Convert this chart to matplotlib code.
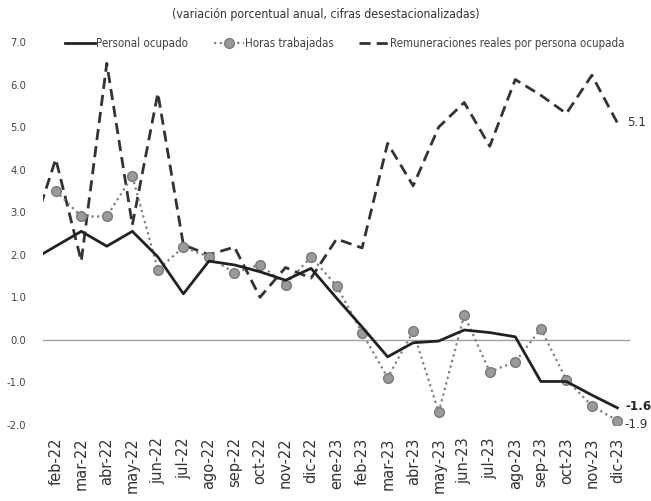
import matplotlib
matplotlib.use("Agg")
import matplotlib.pyplot as plt

# months shown on the axis (ene-22 is only drawn as the line entry, clipped at the edge)
meses = ["feb-22", "mar-22", "abr-22", "may-22", "jun-22", "jul-22", "ago-22",
         "sep-22", "oct-22", "nov-22", "dic-22", "ene-23", "feb-23", "mar-23",
         "abr-23", "may-23", "jun-23", "jul-23", "ago-23", "sep-23", "oct-23",
         "nov-23", "dic-23"]

# values for ene-22 (just left of the plot area)
personal_ene22 = 1.85
remun_ene22 = 2.4

personal = [2.2, 2.55, 2.2, 2.55, 1.95, 1.08, 1.85, 1.76, 1.6, 1.4, 1.68,
            0.98, 0.3, -0.4, -0.07, -0.03, 0.23, 0.17, 0.07, -0.98, -0.98,
            -1.3, -1.6]
horas = [3.5, 2.9, 2.9, 3.85, 1.65, 2.18, 1.95, 1.57, 1.77, 1.3, 1.95,
         1.27, 0.16, -0.89, 0.2, -1.7, 0.58, -0.75, -0.52, 0.26, -0.94,
         -1.55, -1.9]
remun = [4.25, 1.85, 6.5, 2.7, 5.8, 2.23, 2.0, 2.18, 1.0, 1.7, 1.45,
         2.37, 2.16, 4.62, 3.62, 5.0, 5.58, 4.55, 6.12, 5.75, 5.32, 6.22,
         5.1]

plt.rcParams["font.family"] = ["DejaVu Sans"]
plt.rcParams["font.stretch"] = "condensed"

fig = plt.figure(figsize=(6.51, 5.01), dpi=100)
ax = fig.add_axes([0.066, 0.152, 0.902, 0.764])

x = list(range(len(meses)))
x_ext = [-1] + x

ax.axhline(0, color="#a0a0a0", lw=1, zorder=1)

ax.plot(x_ext, [remun_ene22] + remun, color="#333333", lw=2,
        dashes=(4, 2.2), label="Remuneraciones reales por persona ocupada", zorder=2)
ax.plot(x, horas, color="#808080", lw=1.6, ls=(0, (1, 1.6)), marker="o",
        markersize=7, markerfacecolor="#9a9a9a", markeredgecolor="#7a7a7a",
        label="Horas trabajadas", zorder=3)
ax.plot(x_ext, [personal_ene22] + personal, color="#222222", lw=2,
        label="Personal ocupado", zorder=4)

ax.set_xlim(-0.5, len(meses) - 0.5)
ax.set_ylim(-2, 7)
ax.set_yticks(range(-2, 8))
ax.set_yticklabels(["{:.1f}".format(v) for v in range(-2, 8)])
ax.set_xticks(x)
ax.set_xticklabels(meses, rotation=90, fontstretch="normal")
ax.tick_params(axis="y", length=0, labelsize=8, labelcolor="#444444", pad=12)
ax.tick_params(axis="x", length=0, labelsize=10.5, labelcolor="#333333", pad=9)
for s in ax.spines.values():
    s.set_visible(False)

# end-of-series labels
ax.annotate("{:.1f}".format(remun[-1]), (x[-1], remun[-1]), xytext=(7, 0),
            textcoords="offset points", va="center", fontsize=9.5, color="#333333")
ax.annotate("{:.1f}".format(personal[-1]), (x[-1], personal[-1]), xytext=(6, 1),
            textcoords="offset points", va="center", fontsize=9.5,
            fontweight="bold", color="#222222")
ax.annotate("{:.1f}".format(horas[-1]), (x[-1], horas[-1]), xytext=(5, -3),
            textcoords="offset points", va="center", fontsize=9.5, color="#333333")

h, l = ax.get_legend_handles_labels()
fig.legend(h[::-1], l[::-1], loc="center", bbox_to_anchor=(0.53, 0.913), ncol=3,
           frameon=False, fontsize=8.3, handlelength=2.6, handletextpad=0.1,
           columnspacing=2.2, labelcolor="#444444")

fig.text(0.5, 0.972, "(variación porcentual anual, cifras desestacionalizadas)",
         ha="center", va="center", fontsize=8.8, color="#333333")

fig.savefig("out.png", dpi=100)
